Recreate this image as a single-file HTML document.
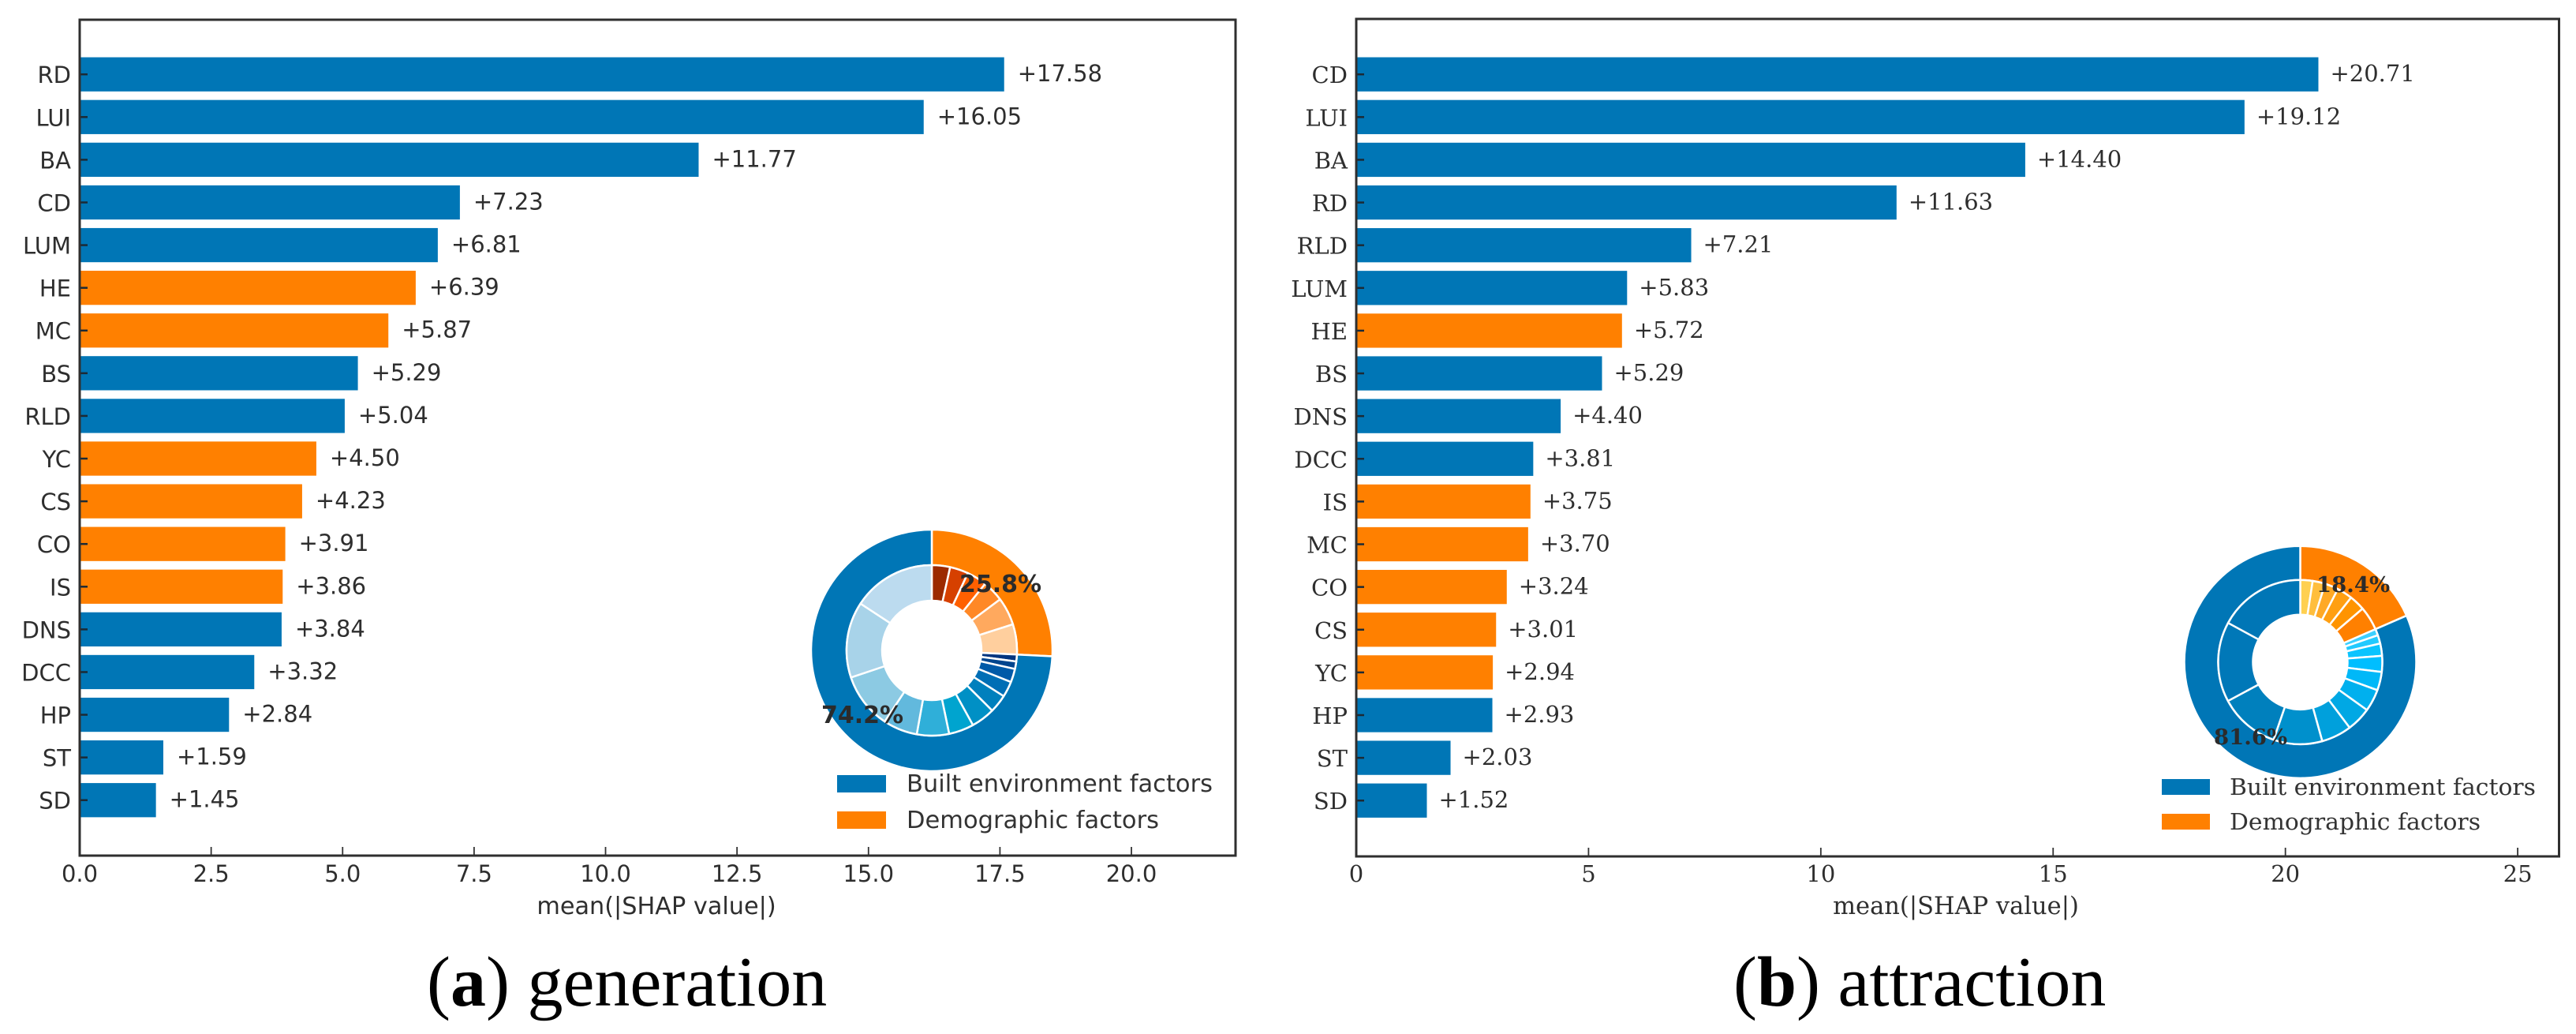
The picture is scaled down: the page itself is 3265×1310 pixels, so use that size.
<!DOCTYPE html>
<html lang="en">
<head>
<meta charset="utf-8">
<title>SHAP feature importance: generation and attraction</title>
<style>
html,body{margin:0;padding:0;background:#fff;width:3265px;height:1310px;overflow:hidden}
svg{display:block}
</style>
</head>
<body>
<svg id="fig" xmlns="http://www.w3.org/2000/svg" width="3265" height="1310" viewBox="0 0 3265 1310">
  <text x="541" y="1274" font-family="'Liberation Serif',serif" font-size="90" fill="#000">(<tspan font-weight="bold">a</tspan>) generation</text>
  <text x="2197" y="1274" font-family="'Liberation Serif',serif" font-size="90" fill="#000">(<tspan font-weight="bold">b</tspan>) attraction</text>
</svg>
<script>
// ---- Panel (a) generation data ----
const genCategories = ['RD','LUI','BA','CD','LUM','HE','MC','BS','RLD','YC','CS','CO','IS','DNS','DCC','HP','ST','SD'];
const genValues = [17.58,16.05,11.77,7.23,6.81,6.39,5.87,5.29,5.04,4.50,4.23,3.91,3.86,3.84,3.32,2.84,1.59,1.45];
const genGroups = ['B','B','B','B','B','D','D','B','B','D','D','D','D','B','B','B','B','B'];
const genTickLabels = ['0.0','2.5','5.0','7.5','10.0','12.5','15.0','17.5','20.0'];
const genTickValues = [0,2.5,5,7.5,10,12.5,15,17.5,20];

// ---- Panel (b) attraction data ----
const attCategories = ['CD','LUI','BA','RD','RLD','LUM','HE','BS','DNS','DCC','IS','MC','CO','CS','YC','HP','ST','SD'];
const attValues = [20.71,19.12,14.40,11.63,7.21,5.83,5.72,5.29,4.40,3.81,3.75,3.70,3.24,3.01,2.94,2.93,2.03,1.52];
const attGroups = ['B','B','B','B','B','B','D','B','B','B','D','D','D','D','D','B','B','B'];
const attTickLabels = ['0','5','10','15','20','25'];
const attTickValues = [0,5,10,15,20,25];

// ---- Inner-ring palettes (smallest slice first) ----
const genBuiltPalette = ['#003580','#00458e','#005aa8','#006eb5','#0080bd','#0090c5','#00a4cf','#2fafd9','#62b9dd','#8ccae3','#a8d3e9','#bcdbef'];
const genDemoPalette = ['#9c2a00','#d64000','#ff6000','#ff8826','#ffa95e','#ffcf9e'];
const attBuiltPalette = ['#3cd0ff','#22caff','#0ac4ff','#00beff','#00b8f8','#00b0ee','#00a8e4','#00a0dc','#0090cc','#0080bd','#0078b8','#0076b6'];
const attDemoPalette = ['#ffd050','#ffbe3d','#ffa925','#ff9f12','#ff9400','#ff8000'];

const BLUE = '#0076b6';
const ORANGE = '#ff8000';
const INK = '#2e2e2e';
const SANS = "'DejaVu Sans',sans-serif";
const SERIF = "'DejaVu Serif',serif";
const NS = 'http://www.w3.org/2000/svg';
const fig = document.getElementById('fig');

function make(parent, tag, props, content) {
  const e = document.createElementNS(NS, tag);
  for (const k in props) e.setAttribute(k, props[k]);
  if (content !== undefined) e.textContent = content;
  parent.appendChild(e);
  return e;
}

function wedge(cx, cy, r0, r1, a0, a1) {
  const p = (r, a) => {
    const t = a * Math.PI / 180;
    return (cx + r * Math.sin(t)).toFixed(2) + ' ' + (cy - r * Math.cos(t)).toFixed(2);
  };
  const large = (a1 - a0) > 180 ? 1 : 0;
  return 'M' + p(r1, a0) + 'A' + r1 + ' ' + r1 + ' 0 ' + large + ' 1 ' + p(r1, a1) +
         'L' + p(r0, a1) + 'A' + r0 + ' ' + r0 + ' 0 ' + large + ' 0 ' + p(r0, a0) + 'Z';
}

function drawPanel(cfg) {
  const xScale = v => cfg.left + (v / cfg.xMax) * (cfg.right - cfg.left);
  const yScale = i => cfg.firstY + i * cfg.stepY;
  const barH = cfg.stepY * 0.8;
  const total = cfg.values.reduce((s, v) => s + v, 0);

  const panel = make(fig, 'g', {});
  
  

  // bars, labels
  cfg.values.forEach((v, i) => {
    const yc = yScale(i);
    const bar = make(panel, 'rect', {x: cfg.left, y: yc - barH / 2, width: xScale(v) - cfg.left, height: barH,
      fill: cfg.groups[i] === 'B' ? BLUE : ORANGE});
    
    

    const val = make(panel, 'text', {x: xScale(v) + cfg.valueGap, y: yc + 9, 'font-family': cfg.font, 'font-size': 29, fill: INK},
      '+' + v.toFixed(2));
    
    

    const tick = make(panel, 'line', {x1: cfg.left, x2: cfg.left + 10, y1: yc, y2: yc, stroke: '#1c2a35', 'stroke-width': 2.5});
    
    

    const lab = make(panel, 'text', {x: cfg.left - 11, y: yc + 11, 'text-anchor': 'end', 'font-family': cfg.font, 'font-size': 29, fill: INK},
      cfg.categories[i]);
    
    
  });

  // x ticks
  cfg.tickValues.forEach((v, i) => {
    const tick = make(panel, 'line', {x1: xScale(v), x2: xScale(v), y1: cfg.bottom - 11, y2: cfg.bottom, stroke: '#333', 'stroke-width': 1.8});
    
    
    const lab = make(panel, 'text', {x: xScale(v), y: 1117, 'text-anchor': 'middle', 'font-family': cfg.font, 'font-size': 29, fill: INK},
      cfg.tickLabels[i]);
    
    
  });

  // frame
  const frame = make(panel, 'rect', {x: cfg.left, y: cfg.top, width: cfg.right - cfg.left, height: cfg.bottom - cfg.top,
    fill: 'none', stroke: '#2f2f2f', 'stroke-width': 3});
  
  

  const xt = make(panel, 'text', {x: cfg.xTitleX, y: 1158, 'text-anchor': 'middle', 'font-family': cfg.font, 'font-size': cfg.xTitleSize, fill: INK},
    'mean(|SHAP value|)');
  
  

  // donut
  const donut = make(panel, 'g', {});
  
  

  const demoSum = cfg.values.reduce((s, v, i) => s + (cfg.groups[i] === 'D' ? v : 0), 0);
  const demoAngle = demoSum / total * 360;
  const d = cfg.donut;

  const outerDemo = make(donut, 'path', {d: wedge(d.cx, d.cy, d.r1, d.r2, 0, demoAngle), fill: ORANGE, stroke: '#fff', 'stroke-width': 2.5});
  
  
  const outerBuilt = make(donut, 'path', {d: wedge(d.cx, d.cy, d.r1, d.r2, demoAngle, 360), fill: BLUE, stroke: '#fff', 'stroke-width': 2.5});
  
  

  const rank = g => cfg.values.filter((v, i) => cfg.groups[i] === g).sort((a, b) => a - b);
  let angle = 0;
  rank('D').forEach((v, i) => {
    const sweep = v / total * 360;
    const s = make(donut, 'path', {d: wedge(d.cx, d.cy, d.r0, d.r1, angle, angle + sweep), fill: cfg.demoPalette[i], stroke: '#fff', 'stroke-width': 2.5});
    
    
    angle += sweep;
  });
  rank('B').forEach((v, i) => {
    const sweep = v / total * 360;
    const s = make(donut, 'path', {d: wedge(d.cx, d.cy, d.r0, d.r1, angle, angle + sweep), fill: cfg.builtPalette[i], stroke: '#fff', 'stroke-width': 2.5});
    
    
    angle += sweep;
  });

  const pctD = make(donut, 'text', {x: cfg.pctDemo[0], y: cfg.pctDemo[1], 'font-family': cfg.font, 'font-size': cfg.pctSize, 'font-weight': 'bold', fill: '#2b2b2b'},
    (demoSum / total * 100).toFixed(1) + '%');
  
  
  const pctB = make(donut, 'text', {x: cfg.pctBuilt[0], y: cfg.pctBuilt[1], 'font-family': cfg.font, 'font-size': cfg.pctSize, 'font-weight': 'bold', fill: '#2b2b2b'},
    ((total - demoSum) / total * 100).toFixed(1) + '%');
  
  

  // legend
  const L = cfg.legend;
  const legend = make(panel, 'g', {});
  
  

  const sw1 = make(legend, 'rect', {x: L.x, y: L.y1, width: L.w, height: L.h, fill: BLUE});
  
  
  const t1 = make(legend, 'text', {x: L.tx, y: L.b1, 'font-family': cfg.font, 'font-size': L.size, fill: '#333', textLength: 388, lengthAdjust: 'spacingAndGlyphs'},
    'Built environment factors');
  
  

  const sw2 = make(legend, 'rect', {x: L.x, y: L.y2, width: L.w, height: L.h, fill: ORANGE});
  
  
  const t2 = make(legend, 'text', {x: L.tx, y: L.b2, 'font-family': cfg.font, 'font-size': L.size, fill: '#333', textLength: L.len2, lengthAdjust: 'spacingAndGlyphs'},
    'Demographic factors');
  
  
}

drawPanel({
  name: 'generation', font: SANS,
  categories: genCategories, values: genValues, groups: genGroups,
  tickLabels: genTickLabels, tickValues: genTickValues,
  builtPalette: genBuiltPalette, demoPalette: genDemoPalette,
  left: 101, right: 1566, top: 25, bottom: 1084, xMax: 21.98,
  firstY: 94.2, stepY: 54.09, valueGap: 17,
  xTitleX: 832, xTitleSize: 30.3,
  donut: {cx: 1181, cy: 824, r0: 63, r1: 108, r2: 153},
  pctDemo: [1216, 750], pctBuilt: [1041, 916], pctSize: 30,
  legend: {x: 1061, y1: 982, y2: 1028, w: 62, h: 22, tx: 1149, b1: 1003, b2: 1049, size: 30, len2: 320}
});

drawPanel({
  name: 'attraction', font: SERIF,
  categories: attCategories, values: attValues, groups: attGroups,
  tickLabels: attTickLabels, tickValues: attTickValues,
  builtPalette: attBuiltPalette, demoPalette: attDemoPalette,
  left: 1719, right: 3243.5, top: 24, bottom: 1085, xMax: 25.89,
  firstY: 94.2, stepY: 54.12, valueGap: 15,
  xTitleX: 2479, xTitleSize: 30.5,
  donut: {cx: 2915.5, cy: 838.8, r0: 60, r1: 104, r2: 147},
  pctDemo: [2936, 750], pctBuilt: [2806, 943], pctSize: 27.5,
  legend: {x: 2740, y1: 987, y2: 1031, w: 61, h: 20, tx: 2826, b1: 1007, b2: 1051, size: 29, len2: 318}
});
</script>
</body>
</html>
